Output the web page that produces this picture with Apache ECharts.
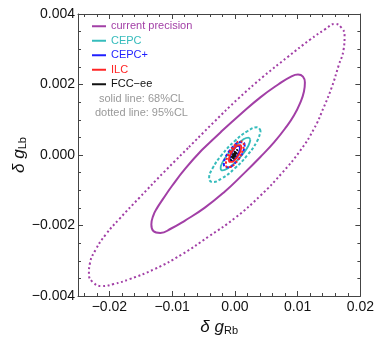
<!DOCTYPE html>
<html>
<head>
<meta charset="utf-8">
<script src="https://cdn.jsdelivr.net/npm/echarts@6/dist/echarts.min.js"></script>
<style>
html, body { margin: 0; padding: 0; background: #fff; }
#chart { width: 377px; height: 341px; }
</style>
</head>
<body>
<div id="chart"></div>
<script>
// axis ticks
var xTicks = [-0.02, -0.01, 0, 0.01, 0.02];
var yTicks = [-0.004, -0.002, 0, 0.002, 0.004];

var names = ['current precision', 'CEPC', 'CEPC+', 'ILC', 'FCC\u2212ee'];
var colors = ['#a23fa6', '#36bcbc', '#1f1fff', '#ff2424', '#111111'];

// contour points (dGRb, dGLb), 68% CL = solid
var curr68 = [
    [-0.00526, 0.000141], [-0.00226, 0.000648], [0.00090, 0.001155], [0.00406, 0.001634],
    [0.00690, 0.002000], [0.00895, 0.002225], [0.01006, 0.002282], [0.01085, 0.002225],
    [0.01116, 0.002056], [0.01101, 0.001803], [0.01037, 0.001465], [0.00943, 0.001127],
    [0.00816, 0.000789], [0.00627, 0.000366], [0.00406, -0.000056], [0.00137, -0.000535],
    [-0.00163, -0.001042], [-0.00478, -0.001493], [-0.00794, -0.001859], [-0.01015, -0.002085],
    [-0.01189, -0.002211], [-0.01300, -0.002155], [-0.01331, -0.001972], [-0.01300, -0.001718],
    [-0.01236, -0.001493], [-0.01142, -0.001239], [-0.01000, -0.000873], [-0.00794, -0.000394]
];
// 95% CL = dotted
var curr95 = [
    [-0.00731, 0.000225], [-0.00336, 0.000930], [0.00058, 0.001606], [0.00453, 0.002225],
    [0.00848, 0.002789], [0.01195, 0.003268], [0.01448, 0.003578], [0.01590, 0.003718],
    [0.01701, 0.003606], [0.01748, 0.003380], [0.01732, 0.002986], [0.01653, 0.002535],
    [0.01543, 0.001916], [0.01416, 0.001352], [0.01258, 0.000732], [0.01037, 0.000113],
    [0.00753, -0.000507], [0.00406, -0.001155], [0.00011, -0.001775], [-0.00415, -0.002310],
    [-0.00842, -0.002817], [-0.01284, -0.003240], [-0.01678, -0.003521], [-0.01931, -0.003662],
    [-0.02121, -0.003718], [-0.02263, -0.003606], [-0.02326, -0.003380], [-0.02310, -0.003071],
    [-0.02215, -0.002676], [-0.02057, -0.002254], [-0.01836, -0.001803], [-0.01521, -0.001211],
    [-0.01126, -0.000479]
];
var cepc68 = [
    [0.002469, 0.000433], [0.002152, 0.000495], [0.001285, 0.000433], [0.0001, 0.000263],
    [-0.001085, 0.00003], [-0.001952, -0.000203], [-0.002269, -0.000373], [-0.001952, -0.000435],
    [-0.001085, -0.000373], [0.0001, -0.000203], [0.001285, 0.00003], [0.002152, 0.000263]
];
var cepc95 = [
    [0.004105, 0.000681], [0.003555, 0.000785], [0.002053, 0.000681], [0, 0.000398],
    [-0.002053, 0.00001], [-0.003555, -0.000378], [-0.004105, -0.000661], [-0.003555, -0.000765],
    [-0.002053, -0.000661], [0, -0.000378], [0.002053, 0.00001], [0.003555, 0.000398]
];
var cepcp68 = [
    [0.00079, 0.000193], [0.000684, 0.00025], [0.000395, 0.00025], [0, 0.000193],
    [-0.000395, 0.000096], [-0.000684, -0.000016], [-0.00079, -0.000113], [-0.000684, -0.00017],
    [-0.000395, -0.00017], [0, -0.000113], [0.000395, -0.000016], [0.000684, 0.000096]
];
var cepcp95 = [
    [0.001558, 0.000269], [0.001336, 0.000364], [0.000729, 0.000364], [-0.0001, 0.000269],
    [-0.000929, 0.000105], [-0.001536, -0.000085], [-0.001758, -0.000249], [-0.001536, -0.000344],
    [-0.000929, -0.000344], [-0.0001, -0.000249], [0.000729, -0.000085], [0.001336, 0.000105]
];
var ilc68 = [
    [0.001009, 0.000213], [0.000878, 0.000277], [0.00052, 0.000277], [0.00003, 0.000213],
    [-0.00046, 0.000103], [-0.000818, -0.000023], [-0.000949, -0.000133], [-0.000818, -0.000197],
    [-0.00046, -0.000197], [0.00003, -0.000133], [0.00052, -0.000023], [0.000878, 0.000103]
];
var ilc95 = [
    [0.001421, 0.000285], [0.001231, 0.000382], [0.000711, 0.000382], [0, 0.000285],
    [-0.000711, 0.000117], [-0.001231, -0.000077], [-0.001421, -0.000245], [-0.001231, -0.000342],
    [-0.000711, -0.000342], [0, -0.000245], [0.000711, -0.000077], [0.001231, 0.000117]
];
var fcc68 = [
    [0.000216, 0.000081], [0.000174, 0.000093], [0.000058, 0.000081], [-0.0001, 0.000047],
    [-0.000258, 0], [-0.000374, -0.000047], [-0.000416, -0.000081], [-0.000374, -0.000093],
    [-0.000258, -0.000081], [-0.0001, -0.000047], [0.000058, 0], [0.000174, 0.000047]
];
var fcc95 = [
    [0.000405, 0.000125], [0.000337, 0.000144], [0.000153, 0.000125], [-0.0001, 0.000072],
    [-0.000353, 0], [-0.000537, -0.000072], [-0.000605, -0.000125], [-0.000537, -0.000144],
    [-0.000353, -0.000125], [-0.0001, -0.000072], [0.000153, 0], [0.000337, 0.000072]
];

var sets68 = [curr68, cepc68, cepcp68, ilc68, fcc68];
var sets95 = [curr95, cepc95, cepcp95, ilc95, fcc95];
var dash95 = [[2, 2.6], [3, 2], [3, 2], [2, 2], [1.5, 1.5]];

function fmt(v, d) {
    var s = Math.abs(v).toFixed(d);
    return (v < -1e-12 ? '\u2212' : '') + s;
}

function contour(name, pts, color, type, width) {
    return {
        name: name,
        type: 'line',
        data: pts.concat([pts[0]]),
        smooth: 0.5,
        showSymbol: false,
        symbol: 'none',
        silent: true,
        color: color,
        lineStyle: { color: color, width: width, type: type }
    };
}

var series = [];
for (var i = 0; i < names.length; i++) {
    series.push(contour(names[i] + ' 95', sets95[i], colors[i], dash95[i], 2));
    series.push(contour(names[i], sets68[i], colors[i], 'solid', i === 0 ? 2 : 1.8));
}

var axisCommon = {
    type: 'value',
    axisLine: { show: true, onZero: false, lineStyle: { color: '#444', width: 1 } },
    axisTick: { show: true, inside: true, length: 5, lineStyle: { color: '#444' } },
    minorTick: { show: true, length: 3, lineStyle: { color: '#444' } },
    splitLine: { show: false }
};

var nameRich = {
    d: { fontSize: 17, fontStyle: 'italic', fontFamily: 'Liberation Sans', color: '#111' },
    g: { fontSize: 17, fontStyle: 'italic', fontFamily: 'Liberation Sans', color: '#111' },
    s: { fontSize: 11, fontFamily: 'Liberation Sans', color: '#111', verticalAlign: 'bottom', lineHeight: 14 }
};

var option = {
    animation: false,
    backgroundColor: '#fff',
    textStyle: { fontFamily: 'Liberation Sans' },
    grid: { left: 78, right: 14, top: 14, bottom: 43 },
    legend: {
        orient: 'vertical',
        left: 92,
        top: 19,
        padding: 0,
        itemWidth: 14,
        itemHeight: 2,
        itemGap: 0,
        icon: 'rect',
        selectedMode: false,
        textStyle: { fontSize: 11, lineHeight: 14.5, fontFamily: 'Liberation Sans' },
        data: names.map(function (n, i) {
            return { name: n, textStyle: { color: colors[i] } };
        })
    },
    graphic: [
        { type: 'text', left: 99, top: 93, style: { text: 'solid line: 68%CL', fill: '#999', fontSize: 11, fontFamily: 'Liberation Sans' } },
        { type: 'text', left: 95, top: 107, style: { text: 'dotted line: 95%CL', fill: '#999', fontSize: 11, fontFamily: 'Liberation Sans' } }
    ],
    xAxis: [
        Object.assign({}, axisCommon, {
            position: 'bottom',
            min: -0.025, max: 0.02, splitNumber: 5,
            minorTick: Object.assign({}, axisCommon.minorTick, { splitNumber: 5 }),
            axisLabel: {
                showMinLabel: false, fontSize: 14, color: '#111', margin: 4,
                formatter: function (v) { return xTicks.some(function (t) { return Math.abs(t - v) < 1e-9; }) ? fmt(v, 2) : ''; }
            },
            name: '{d|\u03b4 }{g|g}{s|Rb}',
            nameLocation: 'middle',
            nameGap: 23,
            nameMoveOverlap: false,
            nameTextStyle: { rich: nameRich }
        }),
        Object.assign({}, axisCommon, {
            position: 'top',
            min: -0.025, max: 0.02, splitNumber: 5,
            minorTick: Object.assign({}, axisCommon.minorTick, { splitNumber: 5 }),
            axisLabel: { show: false }
        })
    ],
    yAxis: [
        Object.assign({}, axisCommon, {
            position: 'left',
            min: -0.004, max: 0.004, interval: 0.002,
            minorTick: Object.assign({}, axisCommon.minorTick, { splitNumber: 4 }),
            axisLabel: {
                fontSize: 14, color: '#111', margin: 3,
                formatter: function (v) { return yTicks.some(function (t) { return Math.abs(t - v) < 1e-9; }) ? fmt(v, 3) : ''; }
            },
            name: '{d|\u03b4 }{g|g}{s|Lb}',
            nameLocation: 'middle',
            nameGap: 50,
            nameMoveOverlap: false,
            nameTextStyle: { rich: nameRich }
        }),
        Object.assign({}, axisCommon, {
            position: 'right',
            min: -0.004, max: 0.004, interval: 0.002,
            minorTick: Object.assign({}, axisCommon.minorTick, { splitNumber: 4 }),
            axisLabel: { show: false }
        })
    ],
    series: series
};

var chart = echarts.init(document.getElementById('chart'), null, { renderer: 'canvas' });
chart.setOption(option);
</script>
</body>
</html>
